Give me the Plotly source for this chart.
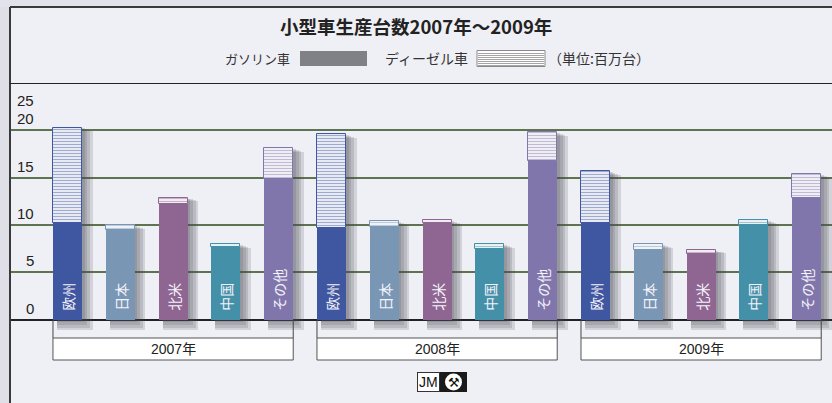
import plotly.graph_objects as go

# ---------------- data ----------------
years = ["2007年", "2008年", "2009年"]
regions = ["欧州", "日本", "北米", "中国", "その他"]
region_colors = ["#3f56a0", "#7a96b5", "#8f6692", "#4590a9", "#8176ab"]

gasoline_2007 = [10.2, 9.5, 12.2, 7.7, 14.9]
diesel_2007 = [10.1, 0.5, 0.7, 0.25, 3.2]
gasoline_2008 = [9.7, 9.75, 10.25, 7.45, 16.8]
diesel_2008 = [9.9, 0.65, 0.25, 0.5, 3.0]
gasoline_2009 = [10.2, 7.4, 6.9, 10.0, 12.9]
diesel_2009 = [5.5, 0.6, 0.5, 0.55, 2.5]

y_ticks = [0, 5, 10, 15, 20]

title_text = "小型車生産台数2007年～2009年"
legend_gas = "ガソリン車"
legend_diesel = "ディーゼル車"
unit_text = "（単位:百万台）"

# ---------------- derived ----------------
gasoline = gasoline_2007 + gasoline_2008 + gasoline_2009
diesel = diesel_2007 + diesel_2008 + diesel_2009
total = [g + d for g, d in zip(gasoline, diesel)]
labels = ["\u00a0\u00a0" + r for r in regions * 3]
colors = region_colors * 3
xs = list(range(len(gasoline)))
BW = 0.55

# layout geometry
W, H = 832, 403
ML, MR, MT, MB = 10, 0, 83, 71
PW, PH = W - ML - MR, H - MT - MB
X_RANGE = [-1.089, 14.479]
Y_RANGE = [-1.3, 25]

def pxx(px):
    return (px - ML) / PW

def pxy(py):
    return (H - MB - py) / PH

def data_x_to_paper(x):
    return (x - X_RANGE[0]) / (X_RANGE[1] - X_RANGE[0])

def data_y_to_px(y):
    return MT + (Y_RANGE[1] - y) / (Y_RANGE[1] - Y_RANGE[0]) * PH

fig = go.Figure()

# soft shadows behind bars
for k in (1, 2, 3, 4):
    base = -0.28 * k
    top = [t - 0.1 * k for t in total]
    fig.add_trace(go.Bar(
        x=xs, y=[t - base for t in top], base=base,
        offset=-0.2, width=0.475 + 0.05 * k,
        marker=dict(color="rgba(70,70,85,0.17)", line=dict(width=0)),
        hoverinfo="skip", showlegend=False,
    ))

# gasoline
fig.add_trace(go.Bar(
    x=xs, y=gasoline, width=BW,
    marker=dict(color=colors, line=dict(width=0)),
    text=labels, textposition="inside", textangle=-90,
    insidetextanchor="start",
    textfont=dict(family="Noto Sans CJK JP", size=14, color="#f2f2f8"),
    name=legend_gas, showlegend=False,
))

# diesel (striped)
fig.add_trace(go.Bar(
    x=xs, y=diesel, base=gasoline, width=BW,
    marker=dict(color="white", line=dict(width=1, color=colors),
                pattern=dict(shape="-", fgcolor=colors, bgcolor="white",
                             size=3, solidity=0.5, fillmode="overlay")),
    name=legend_diesel, showlegend=False,
))

shapes = []
annotations = []

# outer backdrop strips
shapes.append(dict(type="rect", xref="paper", yref="paper", x0=pxx(0), x1=pxx(10),
                   y0=pxy(H), y1=pxy(0), fillcolor="#dfdfe8", line=dict(width=0), layer="below"))
shapes.append(dict(type="rect", xref="paper", yref="paper", x0=pxx(0), x1=pxx(W),
                   y0=pxy(7), y1=pxy(0), fillcolor="#e2e2ec", line=dict(width=0), layer="below"))
# panel border
shapes.append(dict(type="line", xref="paper", yref="paper", x0=pxx(10), x1=pxx(10),
                   y0=pxy(H), y1=pxy(7), line=dict(color="#3a3a3a", width=2)))
shapes.append(dict(type="line", xref="paper", yref="paper", x0=pxx(10), x1=pxx(W),
                   y0=pxy(7), y1=pxy(7), line=dict(color="#3a3a3a", width=2)))
# top (25) line
shapes.append(dict(type="line", xref="paper", yref="y", x0=0, x1=1, y0=25, y1=25,
                   line=dict(color="#222222", width=2)))

# y tick labels (sitting above gridlines)
for v in y_ticks:
    annotations.append(dict(xref="paper", yref="y", x=pxx(36), y=v, xanchor="right",
                            yanchor="bottom", yshift=1, showarrow=False, text=str(v),
                            font=dict(family="Liberation Sans", size=15, color="#222222")))
annotations.append(dict(xref="paper", yref="y", x=pxx(36), y=23.2, xanchor="right",
                        yanchor="middle", showarrow=False, text="25",
                        font=dict(family="Liberation Sans", size=15, color="#222222")))

# year group boxes
y0_px = data_y_to_px(0)
for g, yr in enumerate(years):
    xl = data_x_to_paper(g * 5 - BW / 2)
    xr = data_x_to_paper(g * 5 + 4 + BW / 2)
    for xe in (xl, xr):
        shapes.append(dict(type="line", xref="paper", yref="paper", x0=xe, x1=xe,
                           y0=pxy(338), y1=pxy(y0_px), line=dict(color="#444444", width=1)))
    shapes.append(dict(type="rect", xref="paper", yref="paper", x0=xl, x1=xr,
                       y0=pxy(360), y1=pxy(338), fillcolor="white",
                       line=dict(color="#555555", width=1)))
    annotations.append(dict(xref="paper", yref="paper", x=(xl + xr) / 2, y=pxy(349),
                            xanchor="center", yanchor="middle", showarrow=False, text=yr,
                            font=dict(family="Liberation Sans, Noto Sans CJK JP", size=14,
                                      color="#222222")))

# title
annotations.append(dict(xref="paper", yref="paper", x=pxx(416), y=pxy(26), xanchor="center",
                        yanchor="middle", showarrow=False, text="<b>" + title_text + "</b>",
                        font=dict(family="Noto Sans CJK JP", size=18.5, color="#222222")))

# legend row
leg_font = dict(family="Noto Sans CJK JP", size=13, color="#333333")
annotations.append(dict(xref="paper", yref="paper", x=pxx(292), y=pxy(58), xanchor="right",
                        yanchor="middle", showarrow=False, text=legend_gas, font=leg_font))
shapes.append(dict(type="rect", xref="paper", yref="paper", x0=pxx(300), x1=pxx(367),
                   y0=pxy(66), y1=pxy(51), fillcolor="#808185", line=dict(width=0)))
annotations.append(dict(xref="paper", yref="paper", x=pxx(470), y=pxy(58), xanchor="right",
                        yanchor="middle", showarrow=False, text=legend_diesel,
                        font=dict(family="Noto Sans CJK JP", size=14, color="#333333")))
shapes.append(dict(type="rect", xref="paper", yref="paper", x0=pxx(477), x1=pxx(545),
                   y0=pxy(66.5), y1=pxy(50.5), fillcolor="white",
                   line=dict(color="#8a8a8a", width=1)))
for i in range(7):
    yy = 53.5 + i * 2
    shapes.append(dict(type="line", xref="paper", yref="paper", x0=pxx(478), x1=pxx(544),
                       y0=pxy(yy), y1=pxy(yy), line=dict(color="#a5a5a5", width=1)))
annotations.append(dict(xref="paper", yref="paper", x=pxx(546), y=pxy(58), xanchor="left",
                        yanchor="middle", showarrow=False, text=unit_text,
                        font=dict(family="Noto Sans CJK JP", size=14, color="#333333")))

# JM logo
annotations.append(dict(xref="paper", yref="paper", x=pxx(428), y=pxy(382), xanchor="center",
                        yanchor="middle", showarrow=False, text="JM", bgcolor="white",
                        bordercolor="#333333", borderwidth=1, borderpad=1,
                        font=dict(family="Liberation Sans", size=14, color="#111111")))
shapes.append(dict(type="rect", xref="paper", yref="paper", x0=pxx(440), x1=pxx(467),
                   y0=pxy(392), y1=pxy(372), fillcolor="#1a1a1a", line=dict(width=0)))
shapes.append(dict(type="circle", xref="paper", yref="paper", x0=pxx(445), x1=pxx(462),
                   y0=pxy(390.5), y1=pxy(373.5), fillcolor="white", line=dict(width=0)))
annotations.append(dict(xref="paper", yref="paper", x=pxx(453.5), y=pxy(382), xanchor="center",
                        yanchor="middle", showarrow=False, text="⚒",
                        font=dict(family="DejaVu Sans", size=13, color="#111111")))

fig.update_layout(
    width=W, height=H,
    margin=dict(l=ML, r=MR, t=MT, b=MB, pad=0),
    paper_bgcolor="#eff0f5", plot_bgcolor="#eff0f5",
    barmode="overlay", bargap=0,
    showlegend=False,
    shapes=shapes, annotations=annotations,
    xaxis=dict(range=X_RANGE, showgrid=False, zeroline=False, showticklabels=False,
               showline=False, ticks="", fixedrange=True),
    yaxis=dict(range=Y_RANGE, tickvals=y_ticks, showticklabels=False, ticks="",
               showgrid=True, gridcolor="#5f7350", gridwidth=1.5,
               zeroline=True, zerolinecolor="#222222", zerolinewidth=1.5,
               showline=False, fixedrange=True),
)

fig.write_html("out.html", config={"displayModeBar": False},
               post_script="document.body.style.margin='0';document.body.style.overflow='hidden';")
